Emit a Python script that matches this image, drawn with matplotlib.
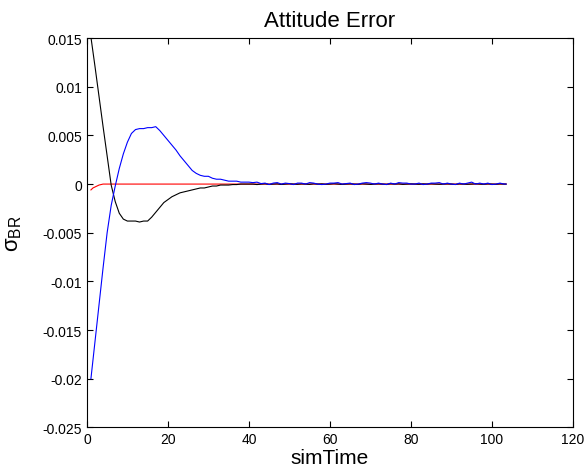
import numpy as np
import matplotlib
matplotlib.use('Agg')
import matplotlib.pyplot as plt

plt.rcParams['font.family'] = ['Liberation Sans', 'DejaVu Sans']
plt.rcParams['mathtext.fontset'] = 'custom'
plt.rcParams['mathtext.rm'] = 'Liberation Sans'
plt.rcParams['mathtext.it'] = 'Liberation Sans'
plt.rcParams['axes.unicode_minus'] = False

# transient part, t in seconds
t_tr = [1, 2, 3, 4, 5, 6, 7, 8, 9, 10, 11, 12, 13, 14, 15, 16, 17, 18, 19, 20,
        21, 22, 23, 24, 25, 26, 27, 28, 29, 30, 31, 32, 33, 34, 35, 36, 37, 38, 39, 40]
sig1_tr = [0.0151, 0.0121, 0.0090, 0.0059, 0.0029, -0.0001, -0.0018, -0.0030, -0.0036, -0.0038,
           -0.0038, -0.0038, -0.0039, -0.0038, -0.0038, -0.0034, -0.0029, -0.0024, -0.0019, -0.0016,
           -0.0013, -0.0011, -0.0009, -0.0008, -0.0007, -0.0006, -0.0005, -0.0004, -0.0004, -0.0003,
           -0.0002, -0.0002, -0.0001, -0.0001, -0.0001, -0.00005, -0.00005, 0.0, 0.0, 0.0]
sig2_tr = [-0.0200, -0.0162, -0.0124, -0.0086, -0.0050, -0.0022, -0.0002, 0.0016, 0.0031, 0.0043,
           0.0052, 0.0056, 0.0057, 0.0057, 0.0058, 0.0058, 0.0059, 0.0055, 0.0050, 0.0045,
           0.0040, 0.0035, 0.0029, 0.0024, 0.0019, 0.0014, 0.0011, 0.0009, 0.0008, 0.0008,
           0.0006, 0.0005, 0.0005, 0.0004, 0.0003, 0.0003, 0.0003, 0.0002, 0.0002, 0.0002]
t_red = [1, 1.5, 2, 2.5, 3, 3.5, 4, 40]
sig3_tr = [-0.0006, -0.0004, -0.0003, -0.0002, -0.0001, -0.00005, 0.0, 0.0]

# steady state noise, units of 1e-4
t_ss = list(range(41, 104)) + [103.5]
sig1_ss = [0, -0.5, 0, 0.3, -0.3, 0, 0.2, -0.4, 0, 0.3, 0, -0.2, 0.2, 0, -0.3, 0.3, 0, 0.2, -0.2, 0,
           0.4, 0, -0.3, 0, 0.2, 0, -0.2, 0.3, 0, -0.3, 0, 0.2, 0, -0.2, 0.3, 0, 0.2, -0.3, 0, 0.2,
           0, -0.2, 0.2, 0, 0.3, 0, -0.2, 0, 0.2, 0, -0.3, 0.2, 0, -0.2, 0, 0.3, 0, -0.2, 0.2, 0,
           -0.2, 0.2, 0, 0]
sig2_ss = [1.5, 2, 0.5, 1, -0.5, 1, 1.5, 0, 1, 0.5, -0.5, 1, 1, 0, 1.5, 1, 0, -0.5, 0, 1,
           1, 1.5, 0, 0.5, 1, -0.5, 0, 1, 1.5, 1, 0, 1, 0, -0.5, 1, 0, 1.5, 1, 1, 0,
           0, 1, -0.5, 0, 1, 1, 1.5, 0, 1, 0, -0.5, 1, 0, 1, 2, 0, 1, 0, 1, -0.5,
           0, 1, 0, 0]
sig3_ss = [0.0] * len(t_ss)

xticks = [0, 20, 40, 60, 80, 100, 120]
yticks = [-0.025, -0.02, -0.015, -0.01, -0.005, 0, 0.005, 0.01, 0.015]
ytick_labels = ['-0.025', '-0.02', '-0.015', '-0.01', '-0.005', '0', '0.005', '0.01', '0.015']

t1 = np.array(t_tr + t_ss)
s1 = np.array(sig1_tr + [v * 1e-4 for v in sig1_ss])
s2 = np.array(sig2_tr + [v * 1e-4 for v in sig2_ss])
t3 = np.array(t_red + t_ss)
s3 = np.array(sig3_tr + sig3_ss)

fig = plt.figure(figsize=(5.87, 4.77), dpi=100)
ax = fig.add_axes([0.148, 0.102, 0.828, 0.816])

ax.plot(t3, s3, color='#ff0000', linewidth=0.8)
ax.plot(t1, s1, color='k', linewidth=0.8)
ax.plot(t1, s2, color='#0000ff', linewidth=0.8)

ax.set_xlim(0, 120)
ax.set_ylim(-0.025, 0.015)
ax.set_xticks(xticks)
ax.set_yticks(yticks)
ax.set_yticklabels(ytick_labels)
ax.tick_params(direction='in', top=True, right=True, length=4, width=0.8, labelsize=10)
for sp in ax.spines.values():
    sp.set_linewidth(0.8)

ax.set_title('Attitude Error', fontsize=16, pad=9)
ax.set_xlabel('simTime', fontsize=15, labelpad=1)
ax.set_ylabel(r'$\sigma_{BR}$', fontsize=16)
ax.yaxis.set_label_coords(-0.13, 0.5)

fig.savefig('out.png', dpi=100)
